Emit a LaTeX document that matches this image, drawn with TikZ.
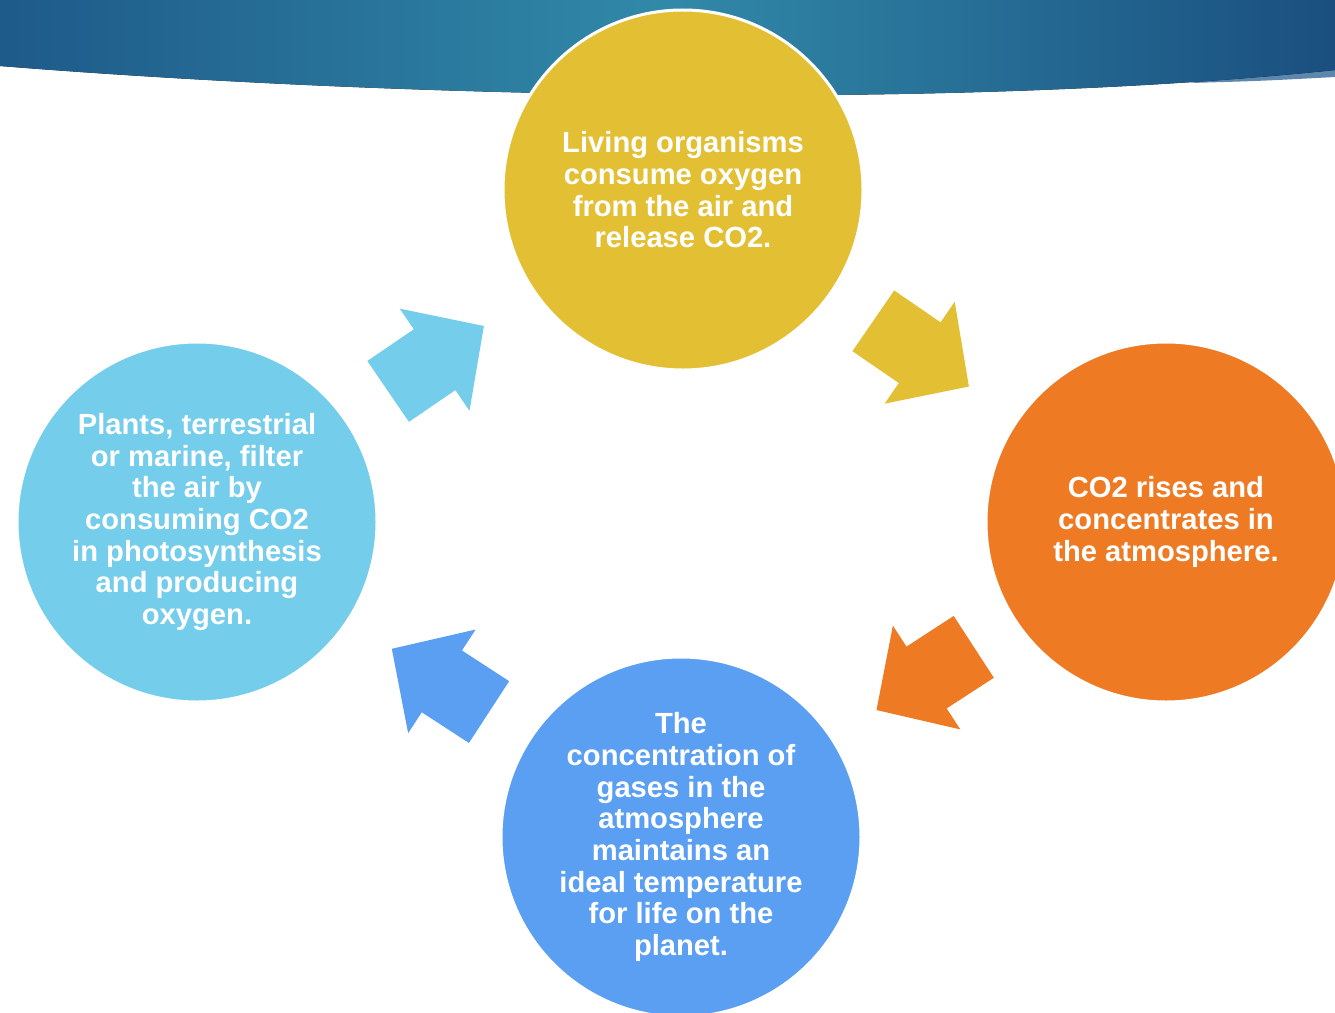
\documentclass[tikz,border=0pt]{standalone}
\usepackage{fontspec}
\setmainfont{Liberation Sans}
\usepackage{tikz}
\usetikzlibrary{shapes.arrows}

\definecolor{cycleyellow}{HTML}{E3C033}
\definecolor{cycleorange}{HTML}{EE7A23}
\definecolor{cyclesky}{HTML}{74CDEA}
\definecolor{cycleblue}{HTML}{5A9FF2}
\definecolor{bannerleft}{HTML}{1E5A8A}
\definecolor{bannermid}{HTML}{3189A8}
\definecolor{bannerright}{HTML}{1A4F80}
\definecolor{bannerstrip}{HTML}{5E87AE}

\tikzset{
  stage/.style={circle, draw=white, line width=0.6mm, minimum size=72mm, inner sep=0pt,
    text=white, align=center, font=\bfseries\fontsize{16.6}{18}\selectfont},
  cyclearrow/.style={single arrow, minimum height=23.2mm, minimum width=24.6mm,
    single arrow head extend=5mm, single arrow tip angle=92,
    inner xsep=0pt, inner ysep=7.3mm, sloped, allow upside down,
    pos=0.22, anchor=tail}
}

\begin{document}
\begin{tikzpicture}[x=0.2mm, y=-0.2mm]
        \clip (0,0) rectangle (1335,1013);

        % Banner
        \fill[bannerstrip] (1190,83) .. controls (1260,81) .. (1335,77) -- (1335,60) -- cycle;
        \fill[left color=bannerleft, right color=bannerright, middle color=bannermid]
            (0,0) -- (0,66) .. controls (400,98) and (950,110) .. (1335,70) -- (1335,0) -- cycle;

        % Nodes
        \node[stage, fill=cycleyellow] (living) at (683,190) {Living organisms\\consume oxygen\\from the air and\\release CO2.};
        \node[stage, fill=cycleorange] (rises) at (1166,522) {CO2 rises and\\concentrates in\\the atmosphere.};
        \node[stage, fill=cycleblue] (gases) at (681,837) {The\\concentration of\\gases in the\\atmosphere\\maintains an\\ideal temperature\\for life on the\\planet.};
        \node[stage, fill=cyclesky] (plants) at (197,522) {Plants, terrestrial\\or marine, filter\\the air by\\consuming CO2\\in photosynthesis\\and producing\\oxygen.};

        % Edges
        \path (living) -- (rises) node[cyclearrow, fill=cycleyellow] {};
        \path (rises) -- (gases) node[cyclearrow, fill=cycleorange] {};
        \path (gases) -- (plants) node[cyclearrow, fill=cycleblue] {};
        \path (plants) -- (living) node[cyclearrow, fill=cyclesky] {};
    \end{tikzpicture}
\end{document}
